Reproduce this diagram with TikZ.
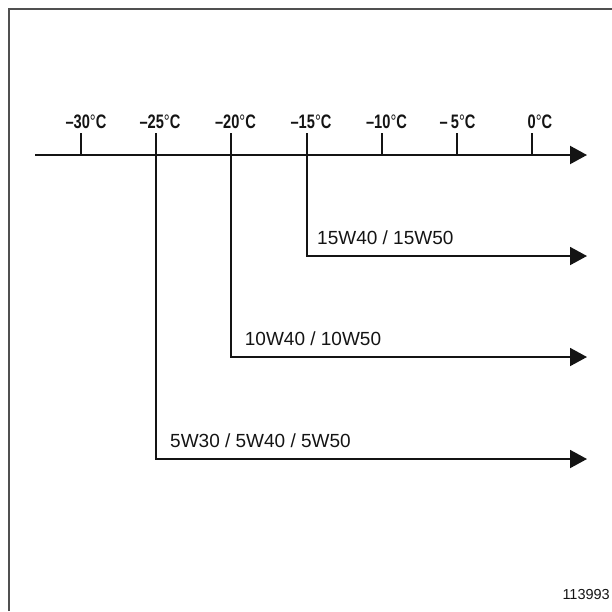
\documentclass[tikz,border=0pt]{standalone}
\usepackage{fontspec}
\setmainfont{Liberation Sans}
\newfontfamily\tempfont[FakeStretch=0.75]{Liberation Sans}
\usetikzlibrary{arrows.meta}
\definecolor{ink}{HTML}{141414}
\definecolor{framegray}{HTML}{505050}
\newcommand{\degc}{{\mdseries°}C}

\begin{document}
\begin{tikzpicture}[x=1pt,y=-1pt,
    axisline/.style={ink,line width=2.1pt,-{Triangle[length=17pt,width=18pt]}},
    tickline/.style={ink,line width=2pt},
    branchline/.style={ink,line width=1.9pt,-{Triangle[length=17pt,width=18pt]}},
    templabel/.style={anchor=base,inner sep=0pt,ink,font=\tempfont\bfseries\fontsize{19.5}{20}\selectfont},
    oillabel/.style={anchor=base west,inner sep=0pt,ink,font=\fontsize{19}{20}\selectfont}]
        \useasboundingbox (0,0) rectangle (612,611);
        \draw[framegray,line width=1.5pt] (9,611) -- (9,9) -- (612,9);
        % temperature axis
        \coordinate (a0) at (35,155);
        \coordinate (a1) at (587,155);
        \coordinate (t30) at (81,155);
        \coordinate (t25) at (156,155);
        \coordinate (t20) at (231,155);
        \coordinate (t15) at (307,155);
        \coordinate (t10) at (382,155);
        \coordinate (t5) at (457,155);
        \coordinate (t0) at (532,155);
        \draw[axisline] (a0) -- (a1);
        \draw[tickline] (t30) -- ++(0,-22);
        \draw[tickline] (t25) -- ++(0,-22);
        \draw[tickline] (t20) -- ++(0,-22);
        \draw[tickline] (t15) -- ++(0,-22);
        \draw[tickline] (t10) -- ++(0,-22);
        \draw[tickline] (t5) -- ++(0,-22);
        \draw[tickline] (t0) -- ++(0,-22);
        \node[templabel] (l30) at (86,128.3) {–30\degc};
        \node[templabel] (l25) at (160,128.3) {–25\degc};
        \node[templabel] (l20) at (235.5,128.3) {–20\degc};
        \node[templabel] (l15) at (311,128.3) {–15\degc};
        \node[templabel] (l10) at (386.5,128.3) {–10\degc};
        \node[templabel] (l5) at (457.5,128.3) {–\,5\degc};
        \node[templabel] (l0) at (540,128.3) {0\degc};
        % oil grades
        \coordinate (e15) at (587,256);
        \coordinate (e20) at (587,357);
        \coordinate (e25) at (587,459);
        \draw[branchline] (t15) |- (e15);
        \draw[branchline] (t20) |- (e20);
        \draw[branchline] (t25) |- (e25);
        \node[oillabel] (o15) at (317,244) {15W40 / 15W50};
        \node[oillabel] (o20) at (244.7,345.3) {10W40 / 10W50};
        \node[oillabel] (o25) at (170,447.5) {5W30 / 5W40 / 5W50};
        \node[anchor=base east,inner sep=0pt,ink,font=\fontsize{14.5}{15}\selectfont] (ref) at (610,599) {113993};
      \end{tikzpicture}
\end{document}
